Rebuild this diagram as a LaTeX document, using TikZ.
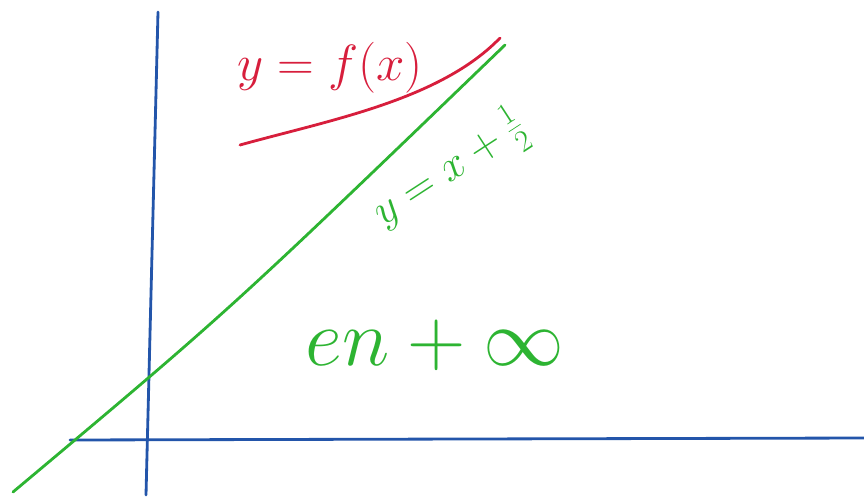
\RequirePackage{fix-cm}
\documentclass[tikz,border=0pt]{standalone}
\usepackage{fontspec}
\begin{document}
\definecolor{axisblue}{RGB}{35,85,170}
\definecolor{curvered}{RGB}{215,30,60}
\definecolor{linegreen}{RGB}{45,180,50}
\tikzset{
  axisline/.style={draw=axisblue,line width=1.6pt,line cap=round},
  redcurve/.style={draw=curvered,line width=1.6pt,line cap=round},
  greenline/.style={draw=linegreen,line width=1.6pt,line cap=round},
  redlabel/.style={text=curvered,font=\fontsize{29}{34}\selectfont},
  greenlabel/.style={text=linegreen,font=\fontsize{25}{29}\selectfont},
  biglabel/.style={text=linegreen,font=\fontsize{46}{52}\selectfont}
}
\begin{tikzpicture}[x=0.02cm,y=-0.02cm]
\useasboundingbox (0,0) rectangle (864,500);
% axes
\coordinate (ytop) at (158,12);
\coordinate (ybot) at (146,495);
\coordinate (xleft) at (70,440);
\coordinate (xright) at (864,438);
\draw[axisline] (ytop) -- (ybot);
\draw[axisline] (xleft) -- (xright);
% green line
\coordinate (gstart) at (13,492);
\coordinate (gend) at (505,45);
\draw[greenline] (gstart) .. controls (230,310) .. (gend);
% red curve
\coordinate (rstart) at (240,145);
\coordinate (rend) at (500,38);
\draw[redcurve] (rstart) .. controls (330,120) and (440,100) .. (rend);
% labels
\node[redlabel] (flabel) at (330,68) {$y=f(x)$};
\node[greenlabel,rotate=33] (glabel) at (450,170) {$y=x+\frac{1}{2}$};
\node[biglabel] (elabel) at (435,345) {$en+\infty$};
\end{tikzpicture}
\end{document}
